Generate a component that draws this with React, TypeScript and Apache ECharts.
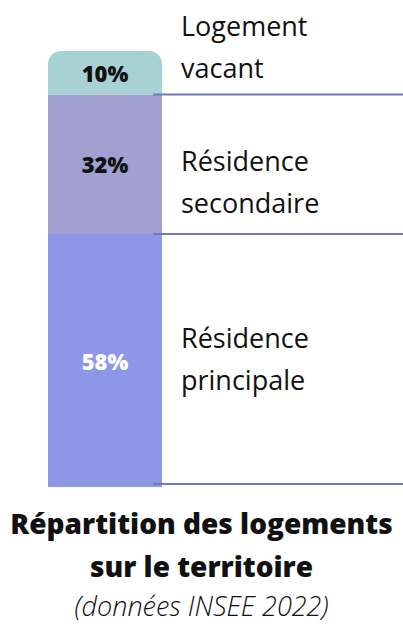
import React, { useEffect, useRef } from "react";
import * as echarts from "echarts";

const categories = ["Résidence principale", "Résidence secondaire", "Logement vacant"];
const values = [58, 32, 10];
const labelNames = ["Résidence\nprincipale", "Résidence\nsecondaire", "Logement\nvacant"];
const colors = ["#8c97e8", "#a1a0d1", "#a8d1d3"];
const labelColors = ["#ffffff", "#111111", "#111111"];
const titleText = "Répartition des logements\nsur le territoire";
const subText = "(données INSEE 2022)";

const FONT = "'Open Sans', Lato, sans-serif";

export default function App() {
  const ref = useRef<HTMLDivElement>(null);
  useEffect(() => {
    if (!ref.current) return;
    const chart = echarts.init(ref.current, null, { renderer: "svg" });
    const series = values.map((v, i) => ({
      type: "bar",
      name: categories[i],
      stack: "total",
      data: [v],
      barWidth: "100%",
      itemStyle: {
        color: colors[i],
        borderRadius: i === values.length - 1 ? [13, 13, 0, 0] : 0,
      },
      label: {
        show: true,
        position: "inside",
        formatter: "{c}%",
        color: labelColors[i],
        fontFamily: FONT,
        fontWeight: 800,
        fontSize: 22,
      },
      z: 2,
    }));
    chart.setOption({
      animation: false,
      backgroundColor: "#ffffff",
      grid: { left: 48, width: 114, top: 51, bottom: 137 },
      xAxis: { type: "category", data: ["logements"], show: false },
      yAxis: { type: "value", min: 0, max: 100, show: false },
      title: {
        text: titleText,
        subtext: subText,
        left: "center",
        top: 496,
        itemGap: 0,
        textStyle: {
          fontFamily: FONT,
          fontWeight: 800,
          fontSize: 28,
          lineHeight: 43,
          color: "#111111",
        },
        subtextStyle: {
          fontFamily: FONT,
          fontStyle: "italic",
          fontWeight: 300,
          fontSize: 27,
          lineHeight: 37,
          color: "#111111",
        },
      },
      series,
    });
    // boundary lines computed through the value axis
    const cum: number[] = [0];
    values.forEach((v, i) => { if (i < values.length - 1) cum.push(cum[i] + v); });
    const lineYs = cum.map((c) => chart.convertToPixel({ yAxisIndex: 0 }, c) as number);
    const labelYs = [316, 139, 4];
    const graphics: any[] = lineYs.map((y, i) => ({
      type: "line",
      z: 10,
      shape: { x1: 153, y1: i === 0 ? y - 3 : y, x2: 403, y2: i === 0 ? y - 3 : y },
      style: { stroke: "#7378ba", lineWidth: 2 },
    }));
    labelNames.forEach((t, i) => {
      graphics.push({
        type: "text",
        x: 181,
        y: labelYs[i],
        style: {
          text: t,
          font: `27px ${FONT}`,
          lineHeight: 42,
          fill: "#111111",
        },
      });
    });
    chart.setOption({ graphic: graphics });
    return () => chart.dispose();
  }, []);
  return (
    <div
      ref={ref}
      style={{ position: "fixed", left: 0, top: 0, width: 403, height: 624 }}
    />
  );
}
